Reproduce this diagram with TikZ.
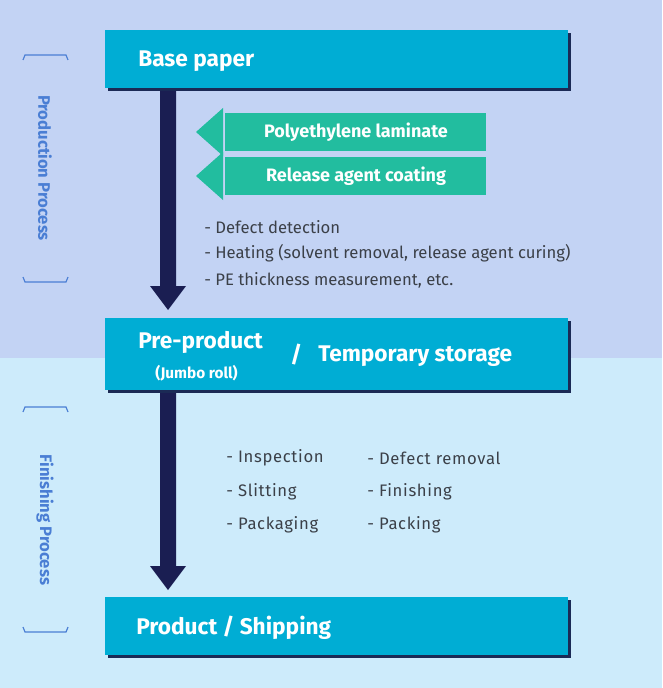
\documentclass[tikz,border=0pt]{standalone}
\usepackage{fontspec}
\setmainfont{Fira Sans}
\usetikzlibrary{positioning}
\definecolor{topbg}{HTML}{C3D3F4}
\definecolor{botbg}{HTML}{CDEBFB}
\definecolor{stepbox}{HTML}{00ADD4}
\definecolor{stepshade}{HTML}{1B2A55}
\definecolor{flowarrow}{HTML}{1A1E52}
\definecolor{addarrow}{HTML}{22BD9F}
\definecolor{notetext}{HTML}{3B4048}
\definecolor{phasetext}{HTML}{4A7ED4}
\tikzset{
  step/.style={draw=none,fill=stepbox,minimum width=463*0.75pt,anchor=north west,inner sep=0pt},
  steptext/.style={text=white,font=\bfseries\fontsize{17}{20}\selectfont,anchor=west,inner sep=0pt},
  note/.style={text=notetext,font=\fontsize{12.5}{15}\selectfont,anchor=west,inner sep=0pt},
  phase/.style={text=phasetext,font=\bfseries\fontsize{12.5}{15}\selectfont,rotate=-90,inner sep=0pt},
  bracket/.style={phasetext,line width=0.9pt},
}
\begin{document}
\begin{tikzpicture}[x=0.75pt,y=-0.75pt]
  % background
  \fill[topbg] (0,0) rectangle (662,358);
  \fill[botbg] (0,358) rectangle (662,688);
  \useasboundingbox (0,0) rectangle (662,688);

  % phase brackets
  \draw[bracket] (23,60) -- (25,55) -- (66,55) -- (68,60);
  \draw[bracket] (23,277) -- (25,282) -- (66,282) -- (68,277);
  \node[phase] (prod) at (45,168) {Production Process};
  \draw[bracket] (23,412) -- (25,407) -- (66,407) -- (68,412);
  \draw[bracket] (23,627) -- (25,632) -- (66,632) -- (68,627);
  \node[phase] (fin) at (45,520) {Finishing Process};

  % boxes with shadow
  \fill[stepshade] (108,33) rectangle (571,91);
  \fill[stepbox] (105,30) rectangle (568,88);
  \fill[stepshade] (108,321) rectangle (571,393);
  \fill[stepbox] (105,318) rectangle (568,390);
  \fill[stepshade] (108,600) rectangle (571,658);
  \fill[stepbox] (105,597) rectangle (568,655);

  \node[steptext] (base) at (138,61) {Base paper};
  \node[steptext] (pre) at (138,342) {Pre-product};
  \node[steptext,font=\bfseries\fontsize{11.5}{14}\selectfont] (jumbo) at (155,373) {(Jumbo roll)};
  \node[steptext] (slash) at (290,355) {/};
  \node[steptext] (temp) at (318,356) {Temporary storage};
  \node[steptext] (product) at (136,628) {Product / Shipping};

  % main flow arrows
  \coordinate (a1) at (168,91);
  \coordinate (a2) at (168,310);
  \coordinate (b1) at (168,393);
  \coordinate (b2) at (168,590);
  \fill[flowarrow] (160,91) -- (176,91) -- (176,286) -- (186,286) -- (168,310) -- (150,286) -- (160,286) -- cycle;
  \fill[flowarrow] (160,393) -- (176,393) -- (176,566) -- (186,566) -- (168,590) -- (150,566) -- (160,566) -- cycle;

  % added layers
  \foreach \top/\txt [count=\i] in {113/Polyethylene laminate,157/Release agent coating}{
    \fill[addarrow] (225,\top) rectangle (486,\top+38);
    \fill[addarrow] (196,\top+19) -- (223,\top-5) -- (223,\top+43) -- cycle;
    \node[steptext,anchor=center,font=\bfseries\fontsize{13.5}{16}\selectfont] (layer\i) at (356,\top+19) {\txt};
  }

  % production notes
  \node[note] (n1) at (204,227) {- Defect detection};
  \node[note] (n2) at (204,253) {- Heating (solvent removal, release agent curing)};
  \node[note] (n3) at (204,280) {- PE thickness measurement, etc.};

  % finishing notes
  \foreach \y/\left/\right [count=\i] in {458/Inspection/Defect removal,492/Slitting/Finishing,525/Packaging/Packing}{
    \node[note,font=\fontsize{12.5}{15}\selectfont\addfontfeature{LetterSpace=4}] (fl\i) at (226,\y) {- \left};
    \node[note,font=\fontsize{12.5}{15}\selectfont\addfontfeature{LetterSpace=4}] (fr\i) at (367,\y) {- \right};
  }
\end{tikzpicture}
\end{document}
